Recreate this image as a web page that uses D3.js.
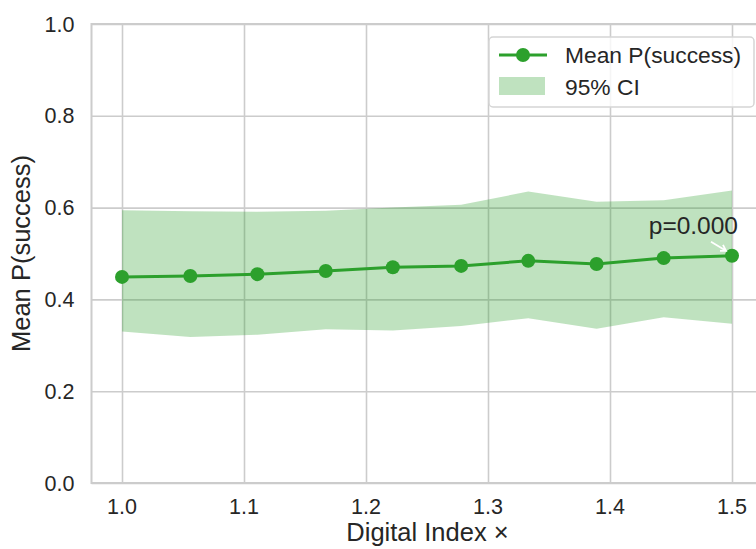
<!DOCTYPE html>
<html>
<head>
<meta charset="utf-8">
<script src="https://cdn.jsdelivr.net/npm/d3@7"></script>
<style>
  body { margin: 0; background: #fff; }
  svg text { font-family: "Liberation Sans", Arial, sans-serif; fill: #262626; }
</style>
</head>
<body>
<script>
// data
var xValues = [1.0, 1.056, 1.111, 1.167, 1.222, 1.278, 1.333, 1.389, 1.444, 1.5];
var meanP   = [0.449, 0.451, 0.455, 0.462, 0.470, 0.473, 0.484, 0.477, 0.490, 0.495];
var ciLow   = [0.330, 0.318, 0.323, 0.335, 0.332, 0.342, 0.359, 0.336, 0.361, 0.347];
var ciHigh  = [0.594, 0.592, 0.591, 0.593, 0.600, 0.606, 0.635, 0.613, 0.616, 0.637];
var xTicks = [1.0, 1.1, 1.2, 1.3, 1.4, 1.5];
var yTicks = [0.0, 0.2, 0.4, 0.6, 0.8, 1.0];

var W = 756, H = 549;
var margin = {top: 24, left: 91.5},
    width = 671, height = 459;

var green = "#2ca02c";
var gridColor = "#cccccc";

var svg = d3.select("body").append("svg")
    .attr("width", W)
    .attr("height", H);

var x = d3.scaleLinear().domain([0.975, 1.525]).range([0, width]);
var y = d3.scaleLinear().domain([0, 1]).range([height, 0]);

var g = svg.append("g")
    .attr("transform", "translate(" + margin.left + "," + margin.top + ")");

// grid
g.append("g")
    .attr("transform", "translate(0," + height + ")")
    .call(d3.axisBottom(x).tickValues(xTicks).tickSize(-height).tickFormat(""))
    .call(function(s) {
      s.select(".domain").remove();
      s.selectAll("line").attr("stroke", gridColor).attr("stroke-width", 1.6);
    });
g.append("g")
    .call(d3.axisLeft(y).tickValues(yTicks).tickSize(-width).tickFormat(""))
    .call(function(s) {
      s.select(".domain").remove();
      s.selectAll("line").attr("stroke", gridColor).attr("stroke-width", 1.6);
    });

// frame
g.append("rect")
    .attr("width", width).attr("height", height)
    .attr("fill", "none").attr("stroke", gridColor).attr("stroke-width", 2);

// CI band
var rows = xValues.map(function(v, i) {
  return {x: v, m: meanP[i], lo: ciLow[i], hi: ciHigh[i]};
});
g.append("path")
    .datum(rows)
    .attr("fill", green).attr("fill-opacity", 0.3)
    .attr("d", d3.area()
      .x(function(d) { return x(d.x); })
      .y0(function(d) { return y(d.lo); })
      .y1(function(d) { return y(d.hi); }));

// mean line + markers
g.append("path")
    .datum(rows)
    .attr("fill", "none").attr("stroke", green).attr("stroke-width", 3)
    .attr("d", d3.line()
      .x(function(d) { return x(d.x); })
      .y(function(d) { return y(d.m); }));
g.selectAll(".dot")
    .data(rows)
    .enter().append("circle")
      .attr("class", "dot")
      .attr("cx", function(d) { return x(d.x); })
      .attr("cy", function(d) { return y(d.m); })
      .attr("r", 7)
      .attr("fill", green);

// annotation on last point
var last = rows[rows.length - 1];
var lx = x(last.x), ly = y(last.m);
g.append("text")
    .text("p=0.000")
    .attr("x", lx + 6).attr("y", ly - 22)
    .attr("text-anchor", "end")
    .style("font-size", "24.5px");
g.append("path")
    .attr("d", "M" + (lx - 21) + "," + (ly - 14) + "L" + (lx - 6) + "," + (ly - 5)
      + "M" + (lx - 12) + "," + (ly - 5) + "L" + (lx - 6) + "," + (ly - 5) + "L" + (lx - 9) + "," + (ly - 11))
    .attr("fill", "none").attr("stroke", "#ffffff").attr("stroke-width", 1.8);

// tick labels
g.selectAll(".xl")
    .data(xTicks)
    .enter().append("text")
      .attr("x", function(d) { return x(d); })
      .attr("y", height + 31)
      .attr("text-anchor", "middle")
      .style("font-size", "21.5px")
      .text(function(d) { return d.toFixed(1); });
g.selectAll(".yl")
    .data(yTicks)
    .enter().append("text")
      .attr("x", -17)
      .attr("y", function(d) { return y(d); })
      .attr("dy", "0.35em")
      .attr("text-anchor", "end")
      .style("font-size", "21.5px")
      .text(function(d) { return d.toFixed(1); });

// axis labels
svg.append("text")
    .text("Digital Index ×")
    .attr("x", margin.left + width / 2 + 0.5)
    .attr("y", 541)
    .attr("text-anchor", "middle")
    .style("font-size", "25.5px");
svg.append("text")
    .text("Mean P(success)")
    .attr("transform", "translate(30," + (margin.top + height / 2) + ") rotate(-90)")
    .attr("text-anchor", "middle")
    .style("font-size", "25.5px");

// legend
var leg = svg.append("g").attr("transform", "translate(489,37)");
leg.append("rect")
    .attr("width", 265).attr("height", 70).attr("rx", 4)
    .attr("fill", "#fff").attr("fill-opacity", 0.8)
    .attr("stroke", "#d5d5d5").attr("stroke-width", 1.5);
leg.append("line")
    .attr("x1", 10).attr("x2", 58).attr("y1", 18).attr("y2", 18)
    .attr("stroke", green).attr("stroke-width", 3);
leg.append("circle")
    .attr("cx", 34).attr("cy", 18).attr("r", 7).attr("fill", green);
leg.append("rect")
    .attr("x", 10).attr("y", 40).attr("width", 46).attr("height", 18)
    .attr("fill", green).attr("fill-opacity", 0.3);
leg.append("text")
    .text("Mean P(success)")
    .attr("x", 76).attr("y", 18).attr("dy", "0.35em")
    .style("font-size", "22.8px");
leg.append("text")
    .text("95% CI")
    .attr("x", 76).attr("y", 50).attr("dy", "0.35em")
    .style("font-size", "22.8px");
</script>
</body>
</html>
